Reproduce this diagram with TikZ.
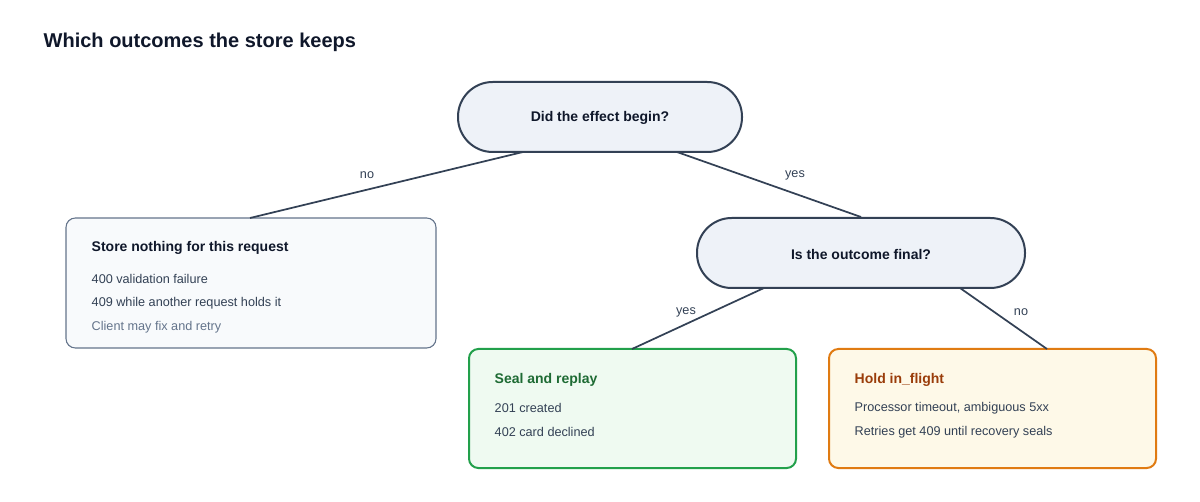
\documentclass[tikz,border=0pt]{standalone}
\usepackage{fontspec}
\setmainfont{Liberation Sans}
\begin{document}
\begin{tikzpicture}[x=0.75pt,y=-0.75pt,
  pill/.style={draw=edge,line width=1.5pt,fill=pillbg,rounded corners=26pt,font=\bfseries\fontsize{10.5}{12}\selectfont,text=ink},
  box/.style={rounded corners=7pt},
  conn/.style={draw=edge,line width=1.3pt},
  lab/.style={font=\fontsize{9.5}{11}\selectfont,text=ink2},
  bt/.style={anchor=west,font=\bfseries\fontsize{10.5}{12}\selectfont},
  bl/.style={anchor=west,font=\fontsize{9.5}{11}\selectfont,text=ink2}]
\definecolor{edge}{HTML}{334155}
\definecolor{pillbg}{HTML}{EEF2F8}
\definecolor{ink}{HTML}{0F172A}
\definecolor{ink2}{HTML}{334155}
\definecolor{grey}{HTML}{64748B}
\useasboundingbox (0,0) rectangle (1200,502);
\node[anchor=west,font=\bfseries\fontsize{15}{18}\selectfont,text=ink] (title) at (39,42) {Which outcomes the store keeps};
% pills
\draw[pill] (458,82) rectangle (742,152);
\node[font=\bfseries\fontsize{10.5}{12}\selectfont,text=ink] (q1) at (600,118) {Did the effect begin?};
\draw[pill] (697,218) rectangle (1025,288);
\node[font=\bfseries\fontsize{10.5}{12}\selectfont,text=ink] (q2) at (861,254) {Is the outcome final?};
% boxes
\draw[box,draw=grey,line width=0.8pt,fill={rgb,255:red,248;green,250;blue,252}] (66,218) rectangle (436,348);
\draw[box,draw={rgb,255:red,34;green,160;blue,75},line width=1.5pt,fill={rgb,255:red,239;green,250;blue,241}] (469,349) rectangle (796,468);
\draw[box,draw={rgb,255:red,224;green,123;blue,18},line width=1.5pt,fill={rgb,255:red,254;green,249;blue,232}] (829,349) rectangle (1156,468);
\coordinate (a1) at (523,152); \coordinate (a2) at (250,218);
\coordinate (b1) at (677,152); \coordinate (b2) at (861,217);
\coordinate (c1) at (764,288); \coordinate (c2) at (632,349);
\coordinate (d1) at (960,288); \coordinate (d2) at (1047,349);
\draw[conn] (a1) -- (a2); \draw[conn] (b1) -- (b2);
\draw[conn] (c1) -- (c2); \draw[conn] (d1) -- (d2);
\node[lab] (l1) at (367,175) {no};
\node[lab] (l2) at (795,175) {yes};
\node[lab] (l3) at (686,312) {yes};
\node[lab] (l4) at (1021,312) {no};
\node[bt,text=ink] (t1) at (87,248) {Store nothing for this request};
\node[bl] (t1a) at (87,279) {400 validation failure};
\node[bl] (t1b) at (87,303) {409 while another request holds it};
\node[bl,text=grey] (t1c) at (87,327) {Client may fix and retry};
\node[bt,text={rgb,255:red,30;green,107;blue,52}] (t2) at (490,380) {Seal and replay};
\node[bl] (t2a) at (490,408) {201 created};
\node[bl] (t2b) at (490,432) {402 card declined};
\node[bt,text={rgb,255:red,154;green,61;blue,10}] (t3) at (850,380) {Hold in\_flight};
\node[bl] (t3a) at (850,408) {Processor timeout, ambiguous 5xx};
\node[bl] (t3b) at (850,432) {Retries get 409 until recovery seals};
\end{tikzpicture}
\end{document}
